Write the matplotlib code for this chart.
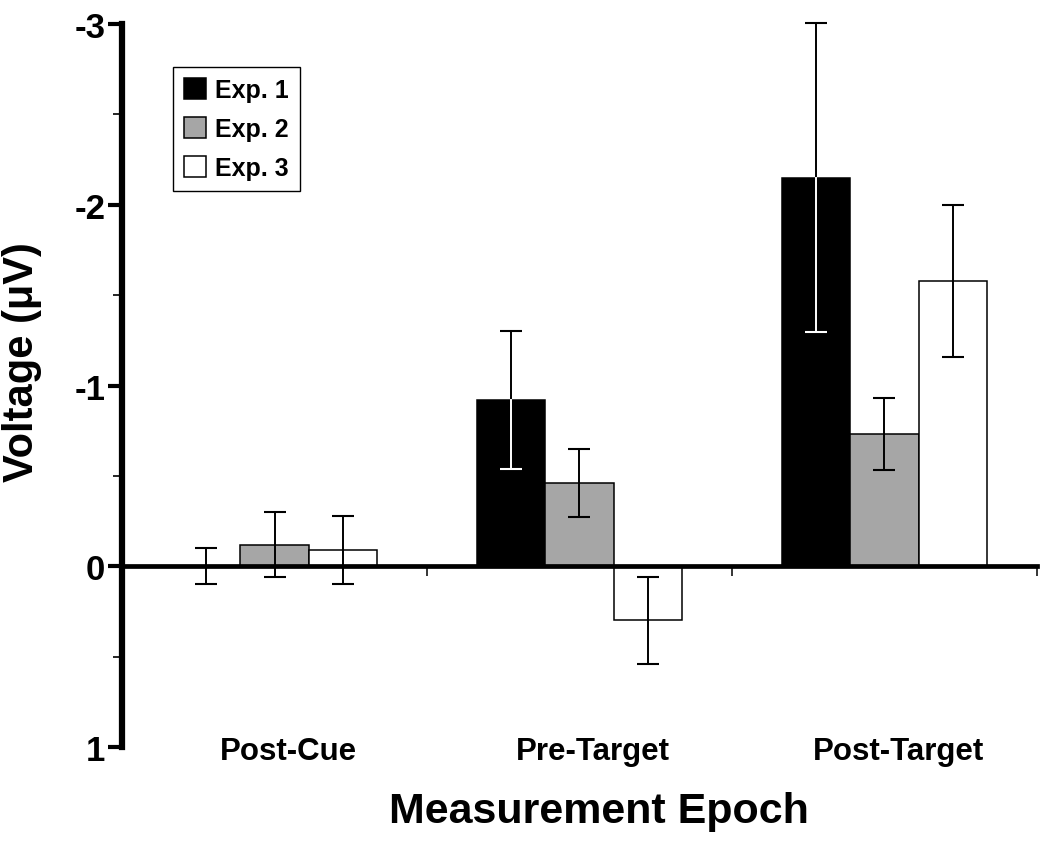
import numpy as np
import matplotlib
matplotlib.use('Agg')
import matplotlib.pyplot as plt

epochs = ['Post-Cue', 'Pre-Target', 'Post-Target']
series = ['Exp. 1', 'Exp. 2', 'Exp. 3']
# mean voltage (uV); negative is plotted upward
exp1 = [0.0, -0.92, -2.15]
exp2 = [-0.12, -0.46, -0.73]
exp3 = [-0.09, 0.30, -1.58]
# error bar half-lengths
err1 = [0.10, 0.38, 0.855]
err2 = [0.18, 0.19, 0.20]
err3 = [0.19, 0.24, 0.42]
yticks = [-3, -2, -1, 0, 1]
ytick_labels = ['-3', '-2', '-1', '0', '1']
minor_yticks = [-2.5, -1.5, -0.5, 0.5]
colors = ['black', '#a6a6a6', 'white']

plt.rcParams['font.family'] = ['Liberation Sans', 'DejaVu Sans']
plt.rcParams['font.weight'] = 'bold'

fig = plt.figure(figsize=(10.5, 8.45), dpi=100)
ax = fig.add_axes([0.1162, 0.1148, 0.8714, 0.8556])

x = np.arange(len(epochs))
w = 0.224
for i, (vals, errs, c, lab) in enumerate(zip([exp1, exp2, exp3], [err1, err2, err3], colors, series)):
    pos = x + (i - 1) * w
    ax.bar(pos, vals, w, color=c, edgecolor='black', linewidth=1.1, label=lab, zorder=2)
    eb = ax.errorbar(pos, vals, yerr=errs, fmt='none', ecolor='black', elinewidth=1.4,
                     capsize=7.8, capthick=1.5, zorder=3)
    for art in eb.lines[1]:
        art.set_clip_on(False)
    for art in eb.lines[2]:
        art.set_clip_on(False)
    if i == 0:
        # part of the error bar that falls inside the black bar is white
        for p, v, e in zip(pos, vals, errs):
            if abs(v) > e:
                ax.plot([p, p], [v, v + e], color='white', lw=1.4, zorder=4)
                ax.plot([p], [v + e], marker='_', ms=15.6, mew=1.5, color='white', zorder=4)

ax.set_xlim(-0.5, 2.5)
ax.set_ylim(1, -3)
ax.spines['top'].set_visible(False)
ax.spines['right'].set_visible(False)
ax.spines['bottom'].set_position(('data', 0))
ax.spines['bottom'].set_linewidth(3.4)
ax.spines['left'].set_linewidth(4.5)

ax.set_xticks([0.5, 1.5, 2.5])
ax.set_xticklabels([])
ax.tick_params(axis='x', direction='out', length=7, width=1.1)
ax.set_yticks(yticks)
ax.set_yticklabels(ytick_labels, fontsize=25, fontweight='bold')
ax.set_yticks(minor_yticks, minor=True)
ax.tick_params(axis='y', which='major', length=10, width=3, pad=2)
ax.tick_params(axis='y', which='minor', length=6.5, width=1.2)

for xi, name in zip(x, epochs):
    ax.text(xi + 0.045, -0.0166, name, ha='center', va='baseline', fontsize=22.5,
            fontweight='bold', transform=ax.get_xaxis_transform())

fig.text(0.570, 0.026, 'Measurement Epoch', ha='center', va='baseline', fontsize=31, fontweight='bold')
fig.text(0.021, 0.572, 'Voltage (μV)', rotation=90, ha='center', va='center', fontsize=30, fontweight='bold')

leg = ax.legend(loc='upper left', bbox_to_anchor=(0.0557, 0.9405), borderaxespad=0,
                prop={'size': 18, 'weight': 'bold'}, fancybox=False, framealpha=1,
                edgecolor='black', handlelength=0.88, handleheight=0.88,
                handletextpad=0.36, labelspacing=0.6, borderpad=0.44)
leg.get_frame().set_linewidth(1.0)

fig.savefig('out.png', dpi=100)
